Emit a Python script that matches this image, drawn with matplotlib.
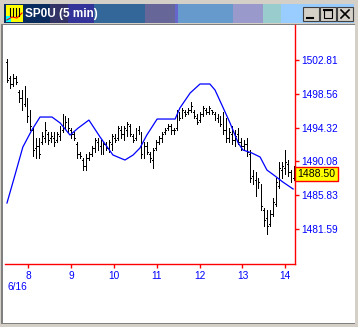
import numpy as np
import matplotlib
matplotlib.use("Agg")
import matplotlib.pyplot as plt
from matplotlib.patches import Rectangle

plt.rcParams['font.family'] = ['Liberation Sans', 'DejaVu Sans']

# 5-min bars, 7:30 .. 14:12 (hour of day)
highs = [1503.00, 1500.75, 1501.00, 1500.75, 1499.00, 1499.00, 1499.50, 1498.00, 1496.50, 1494.25,
         1493.00, 1493.00, 1493.75, 1495.00, 1493.75, 1493.75, 1493.75, 1493.75, 1494.50, 1496.00,
         1495.75, 1495.50, 1494.25, 1493.75, 1492.50, 1491.25, 1490.50, 1491.00, 1491.25, 1492.00,
         1493.00, 1493.00, 1492.75, 1492.50, 1492.50, 1492.75, 1493.50, 1493.50, 1494.50, 1494.50,
         1494.50, 1495.00, 1494.75, 1493.50, 1494.25, 1494.50, 1493.75, 1492.50, 1492.50, 1491.25,
         1491.75, 1492.75, 1493.25, 1493.75, 1494.25, 1494.75, 1494.75, 1494.25, 1496.50, 1496.25,
         1496.75, 1496.50, 1496.75, 1497.50, 1496.50, 1496.00, 1496.25, 1497.00, 1496.75, 1497.00,
         1496.50, 1496.25, 1496.00, 1495.75, 1496.25, 1495.50, 1494.25, 1494.50, 1494.00, 1494.25,
         1493.00, 1492.75, 1493.00, 1491.50, 1489.00, 1488.75, 1488.00, 1487.25, 1484.25, 1484.00,
         1484.00, 1485.50, 1488.00, 1490.00, 1490.00, 1491.50, 1490.25, 1489.00, 1489.50]
lows = [1500.00, 1499.25, 1499.50, 1499.75, 1497.50, 1496.50, 1497.00, 1495.00, 1494.00, 1490.75,
        1490.50, 1490.50, 1492.25, 1492.50, 1492.25, 1492.50, 1492.00, 1492.50, 1492.75, 1493.75,
        1494.25, 1493.75, 1493.00, 1492.75, 1490.50, 1490.50, 1489.00, 1489.00, 1490.25, 1490.75,
        1491.25, 1491.50, 1491.00, 1491.00, 1491.50, 1491.25, 1491.50, 1492.50, 1492.75, 1493.00,
        1492.75, 1493.25, 1493.25, 1492.50, 1492.75, 1493.50, 1490.50, 1490.50, 1491.00, 1490.00,
        1489.25, 1491.50, 1492.25, 1492.50, 1493.50, 1494.00, 1493.50, 1493.50, 1494.00, 1495.25,
        1495.50, 1495.75, 1496.00, 1496.25, 1495.50, 1494.75, 1495.00, 1495.75, 1496.00, 1496.00,
        1496.00, 1495.25, 1495.00, 1494.50, 1493.50, 1492.50, 1492.50, 1492.25, 1492.00, 1492.25,
        1491.50, 1491.50, 1490.75, 1487.50, 1487.25, 1485.75, 1486.75, 1484.00, 1482.00, 1481.00,
        1482.00, 1483.25, 1484.50, 1486.75, 1488.00, 1488.50, 1488.25, 1487.50, 1487.75]
opens = [1502.50, 1500.50, 1499.75, 1500.50, 1498.75, 1498.00, 1497.25, 1497.75, 1495.50, 1494.00,
         1491.75, 1492.00, 1492.50, 1493.00, 1493.50, 1493.00, 1493.00, 1492.75, 1493.25, 1494.00,
         1495.50, 1495.00, 1494.00, 1493.50, 1492.25, 1491.00, 1490.25, 1489.50, 1490.50, 1491.00,
         1491.75, 1492.50, 1492.00, 1491.50, 1492.00, 1491.75, 1492.25, 1493.00, 1493.00, 1494.00,
         1493.50, 1494.00, 1494.50, 1493.25, 1493.00, 1494.00, 1493.50, 1491.00, 1492.00, 1491.00,
         1490.25, 1491.75, 1492.50, 1493.00, 1493.75, 1494.25, 1494.50, 1494.00, 1494.25, 1495.75,
         1495.75, 1496.25, 1496.25, 1496.50, 1496.25, 1495.50, 1495.25, 1496.00, 1496.50, 1496.25,
         1496.50, 1496.00, 1495.50, 1495.25, 1495.00, 1494.00, 1493.00, 1493.50, 1492.75, 1493.50,
         1492.50, 1492.00, 1492.25, 1491.00, 1488.25, 1487.75, 1486.75, 1487.00, 1484.00, 1483.00,
         1482.25, 1483.50, 1484.75, 1487.00, 1489.00, 1489.25, 1489.75, 1488.75, 1488.00]
closes = [1500.25, 1499.75, 1500.50, 1500.00, 1498.00, 1497.00, 1498.50, 1495.75, 1494.50, 1491.50,
          1492.00, 1491.00, 1493.25, 1494.00, 1492.75, 1493.25, 1492.50, 1493.50, 1494.25, 1495.50,
          1495.00, 1494.25, 1493.50, 1493.00, 1491.00, 1490.75, 1489.50, 1490.50, 1491.00, 1491.75,
          1492.75, 1492.00, 1491.50, 1492.25, 1491.75, 1492.50, 1493.25, 1492.75, 1494.25, 1493.50,
          1494.25, 1494.75, 1493.50, 1492.75, 1494.00, 1494.00, 1491.00, 1492.00, 1491.25, 1490.50,
          1491.50, 1492.50, 1493.00, 1493.50, 1494.00, 1494.50, 1494.00, 1494.00, 1496.00, 1495.50,
          1496.50, 1496.00, 1496.50, 1497.00, 1495.75, 1495.00, 1496.00, 1496.75, 1496.25, 1496.75,
          1496.25, 1495.50, 1495.25, 1494.75, 1494.00, 1493.00, 1493.75, 1492.75, 1493.25, 1492.50,
          1492.00, 1492.25, 1491.25, 1488.00, 1487.75, 1486.50, 1487.50, 1484.50, 1482.75, 1482.00,
          1483.50, 1485.00, 1487.50, 1489.25, 1489.50, 1490.00, 1488.75, 1488.25, 1488.50]
times = np.linspace(7.51, 14.19, len(highs))

# smoothed average line
ma_times = [7.51, 7.67, 7.88, 8.09, 8.28, 8.56, 8.75, 8.98, 9.17, 9.42, 9.68, 9.98, 10.26,
            10.45, 10.61, 10.77, 11.01, 11.43, 11.54, 11.78, 12.01, 12.24, 12.36, 12.52,
            12.71, 12.90, 13.01, 13.22, 13.41, 13.57, 13.76, 13.94, 14.18]
ma_values = [1484.85, 1487.86, 1491.88, 1494.02, 1495.65, 1495.65, 1494.90, 1493.39, 1494.27,
             1495.27, 1493.14, 1490.88, 1490.25, 1490.88, 1491.76, 1493.39, 1495.40, 1495.40,
             1496.78, 1498.67, 1499.80, 1499.80, 1499.04, 1497.16, 1494.90, 1492.39, 1491.51,
             1491.13, 1490.63, 1488.99, 1488.24, 1487.49, 1486.61]

ytick_vals = [1481.59, 1485.83, 1490.08, 1494.32, 1498.56, 1502.81]
xtick_vals = [8, 9, 10, 11, 12, 13, 14]
last_price = 1488.50
title = "SP0U (5 min)"

W, H = 358, 327
fig = plt.figure(figsize=(W / 100, H / 100), dpi=100)
fig.patch.set_facecolor('#d4d0c8')

# window chrome, drawn in pixel coords
bg = fig.add_axes([0, 0, 1, 1])
bg.set_xlim(0, W)
bg.set_ylim(H, 0)
bg.axis('off')
bg.add_patch(Rectangle((1, 24), 354, 300, facecolor='#808080', lw=0))
bg.add_patch(Rectangle((3, 25), 352, 298, facecolor='white', lw=0))
segs = [(4, 50, '#0a2b5e'), (50, 68, '#333366'), (68, 94, '#333399'), (94, 145, '#336699'),
        (145, 175, '#666699'), (175, 178, '#6666cc'), (178, 233, '#6699cc'),
        (233, 263, '#9999cc'), (263, 281, '#99cccc'), (281, 354, '#99ccff')]
for x0, x1, c in segs:
    bg.add_patch(Rectangle((x0, 4), x1 - x0, 19, facecolor=c, lw=0))
# icon
bg.add_patch(Rectangle((6, 5), 17, 17, facecolor='#ffff00', lw=0))
bg.add_patch(Rectangle((6, 16), 5, 6, facecolor='#00ffff', lw=0))
bg.plot([7, 12, 17, 22], [20, 17, 18, 13], color='red', lw=0.8)
for xx in [10, 13, 16, 19]:
    bg.plot([xx, xx], [8, 16], color='black', lw=0.8)
bg.text(25, 14, title, color='white', fontsize=8.5, fontweight='bold', va='center', ha='left')
# buttons
for bx in [303, 320, 337]:
    bg.add_patch(Rectangle((bx, 7), 16, 14, facecolor='#d4d0c8', edgecolor='#404040', lw=0.8))
bg.plot([307, 313], [17.5, 17.5], color='black', lw=1.5)
bg.add_patch(Rectangle((324, 9.5), 8, 8, facecolor='none', edgecolor='black', lw=0.8))
bg.plot([324, 332], [10, 10], color='black', lw=1.5)
bg.plot([341, 349], [10, 18], color='black', lw=1.2)
bg.plot([341, 349], [18, 10], color='black', lw=1.2)

# chart area
ax = fig.add_axes([5 / W, 1 - 264 / H, 290 / W, 239 / H])
ax.set_facecolor('none')
ax.set_xlim(7.464, 14.224)
ax.set_ylim(1477.19, 1507.21)

ax.vlines(times, lows, highs, color='black', lw=0.72, antialiased=False)
ax.hlines(opens, times - 0.02, times, color='black', lw=0.72, antialiased=False)
ax.hlines(closes, times, times + 0.02, color='black', lw=0.72, antialiased=False)
ax.plot(ma_times, ma_values, color='#0000ff', lw=0.9)

for s in ['top', 'left']:
    ax.spines[s].set_visible(False)
for s in ['bottom', 'right']:
    ax.spines[s].set_color('#ff0000')
    ax.spines[s].set_linewidth(1)

ax.yaxis.tick_right()
ax.set_yticks(ytick_vals)
ax.set_yticklabels([f"{v:.2f}" for v in ytick_vals])
ax.set_xticks(xtick_vals)
ax.set_xticklabels([str(v) for v in xtick_vals])
ax.tick_params(axis='both', colors='#ff0000', labelcolor='#0000ff', labelsize=7.3,
               length=3, width=1)
ax.tick_params(axis='y', pad=1.5)
ax.tick_params(axis='x', pad=2)

ax.text(1.008, last_price, f"{last_price:.2f}", transform=ax.get_yaxis_transform(),
        fontsize=7.6, color='black', va='center', ha='left',
        bbox=dict(boxstyle='square,pad=0.22', facecolor='#ffff00', edgecolor='#ff0000', lw=1))

bg.text(7, 287, "6/16", color='#0000ff', fontsize=7.3, va='center', ha='left')

fig.savefig("out.png", dpi=100, facecolor=fig.get_facecolor())
